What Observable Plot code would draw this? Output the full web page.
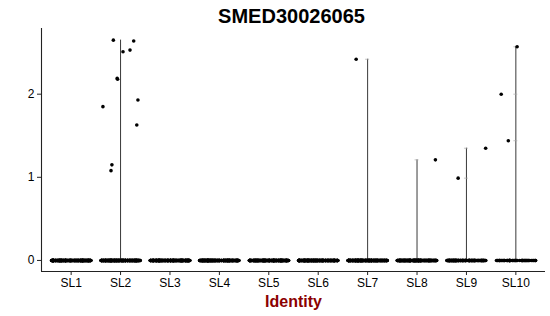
<!DOCTYPE html>
<html><head><meta charset="utf-8">
<script src="https://cdn.jsdelivr.net/npm/d3@7"></script>
<script src="https://cdn.jsdelivr.net/npm/@observablehq/plot@0.6"></script>
<style>body{margin:0;background:#fff;font-family:"Liberation Sans",Arial,sans-serif}</style>
</head><body><div id="chart"></div>
<script>
const title = "SMED30026065";
const xLabel = "Identity";
const clusters = ["SL1","SL2","SL3","SL4","SL5","SL6","SL7","SL8","SL9","SL10"];
const zeroCounts = [260, 260, 260, 260, 260, 260, 260, 240, 150, 60];
const sl2Values = [2.64, 2.51, 2.53, 2.65, 2.18, 2.19, 1.93, 1.85, 1.63, 1.15, 1.08];
const sl7Values = [2.42];
const sl8Values = [1.21];
const sl9Values = [0.99, 1.35];
const sl10Values = [1.44, 2.00, 2.57];
const yTicks = [0, 1, 2];

const nonzero = {SL2: sl2Values, SL7: sl7Values, SL8: sl8Values, SL9: sl9Values, SL10: sl10Values};

// seeded jitter (like geom_jitter), positions only
const rng = d3.randomUniform.source(d3.randomLcg(0.4242))(-0.4, 0.4);
const rows = [];
const violins = [];
clusters.forEach((c, i) => {
  for (let k = 0; k < zeroCounts[i]; k++) rows.push({idx: i, value: 0, jit: rng()});
  const nz = nonzero[c] || [];
  nz.forEach(v => rows.push({idx: i, value: v, jit: rng()}));
  if (nz.length) violins.push({idx: i, max: d3.max(nz), vals: nz});
});
const bumps = violins.filter(v => v.vals.length < 5).flatMap(v => v.vals.map(val => ({idx: v.idx, value: val})));

const yMin = -0.133, yMax = 2.79;
const chart = Plot.plot({
  width: 550, height: 316,
  marginLeft: 41, marginRight: 5, marginTop: 28, marginBottom: 45,
  x: {domain: [-0.6, 9.6], label: null},
  y: {domain: [yMin, yMax], label: null},
  style: {fontFamily: "'Liberation Sans', Arial, sans-serif", fontSize: "12px", color: "black", background: "white"},
  marks: [
    Plot.ruleX(violins, {x: "idx", y1: 0, y2: "max", stroke: "#222", strokeWidth: 0.9}),
    Plot.ruleY(bumps, {y: "value", x1: d => d.idx - 0.04, x2: d => d.idx + 0.04, stroke: "#aaa", strokeWidth: 0.7}),
    Plot.dot(rows, {x: d => d.idx + d.jit, y: "value", r: 1.8, fill: "black", stroke: null}),
    Plot.ruleX([-0.6], {y1: yMin, y2: yMax, stroke: "#222", strokeWidth: 1.1}),
    Plot.ruleY([yMin], {x1: -0.6, x2: 9.6, stroke: "#222", strokeWidth: 1.1}),
    Plot.axisX({ticks: d3.range(clusters.length), tickFormat: i => clusters[i], tickSize: 4, tickPadding: 3, fontSize: 12, stroke: "#222", label: null}),
    Plot.axisY({ticks: yTicks, tickFormat: d3.format("d"), tickSize: 4, tickPadding: 3, fontSize: 12, stroke: "#222", label: null}),
    Plot.text([title], {frameAnchor: "top", lineAnchor: "bottom", dy: -6, dx: -2, fontSize: 20, fontWeight: "bold", fill: "black"}),
    Plot.text([xLabel], {frameAnchor: "bottom", lineAnchor: "bottom", dy: 35, fontSize: 16, fontWeight: "bold", fill: "#8B0000"})
  ]
});
document.getElementById("chart").append(chart);
</script>
</body></html>
